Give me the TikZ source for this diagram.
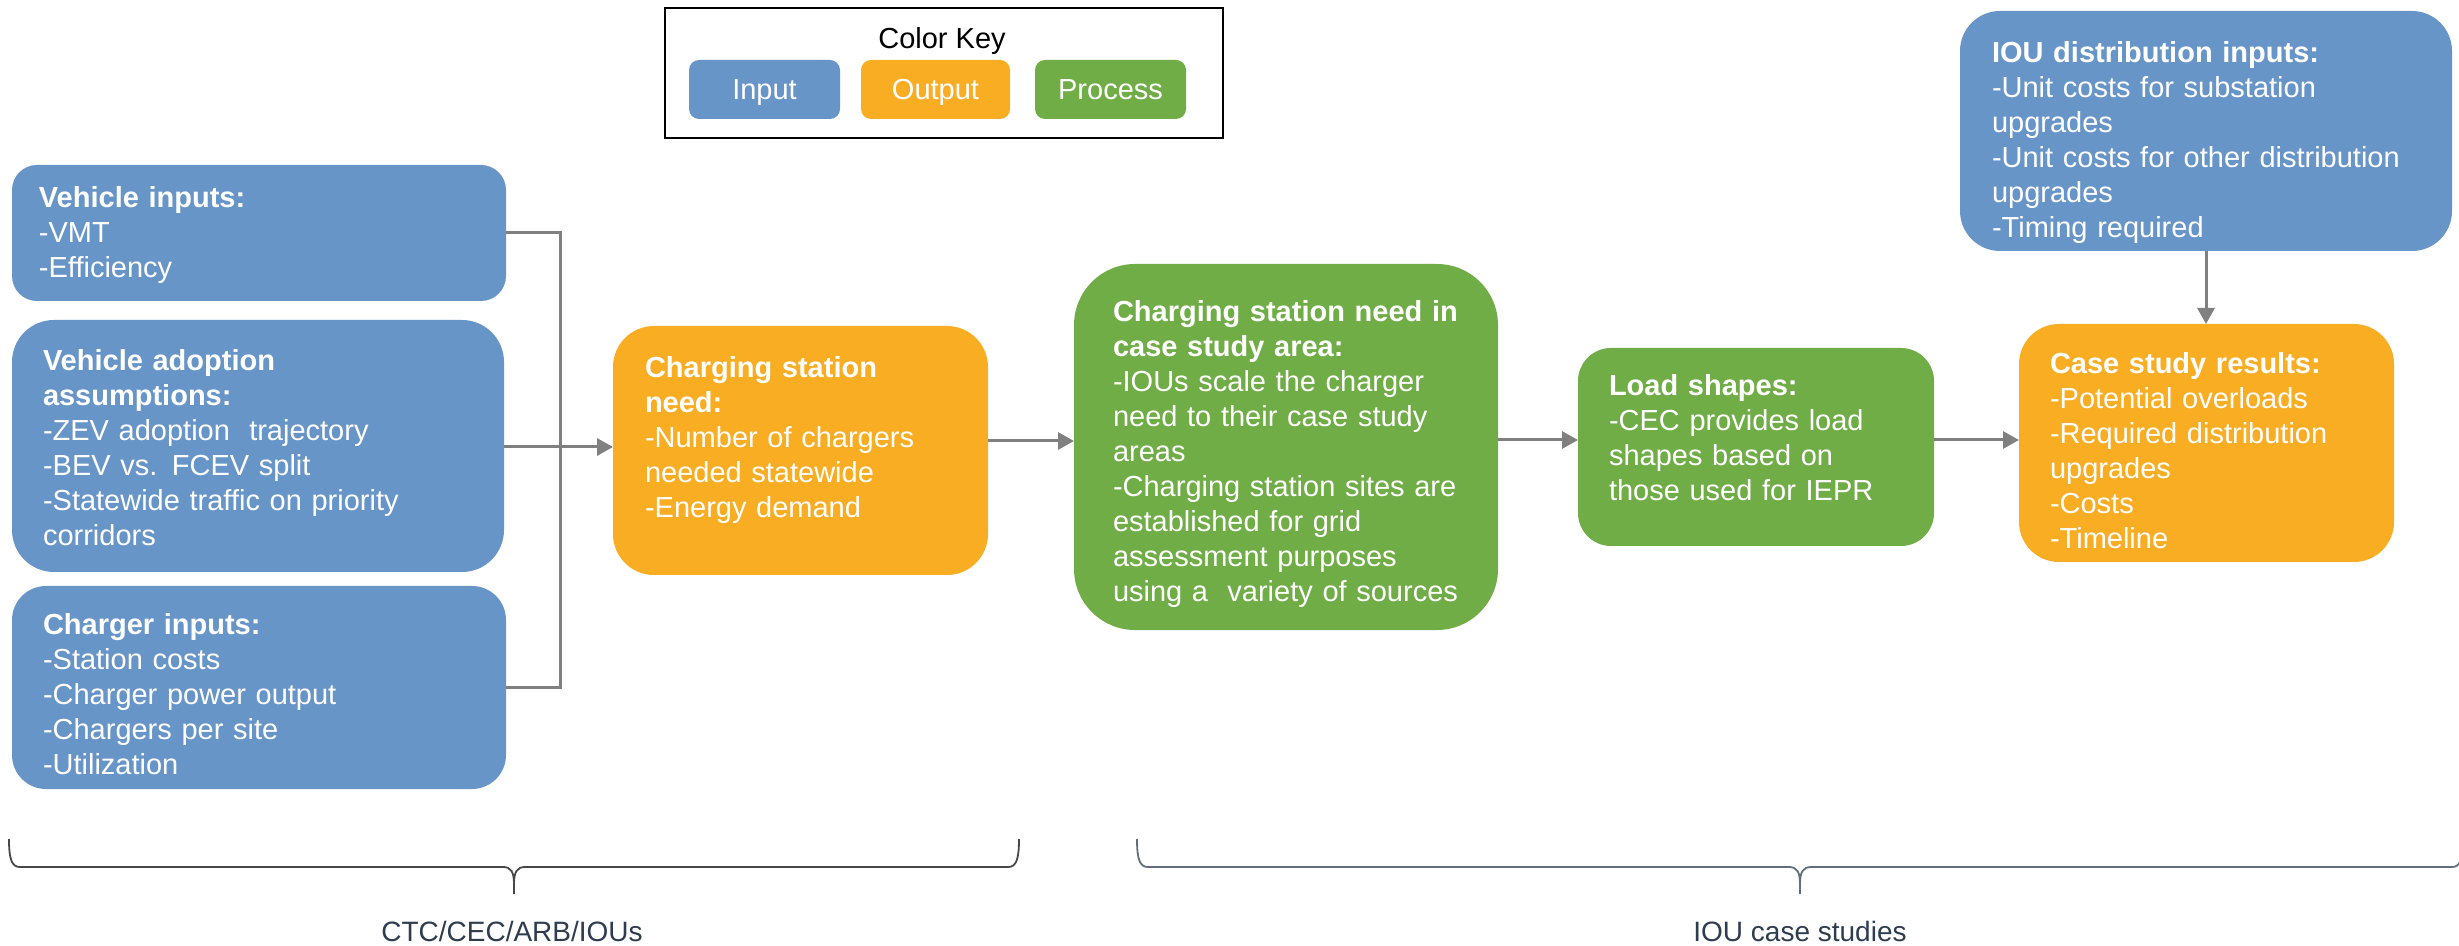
\documentclass[tikz,border=0pt]{standalone}
\usepackage{fontspec}
\setmainfont{Liberation Sans}
\usetikzlibrary{arrows.meta,calc}
\definecolor{inblue}{RGB}{104,149,200}
\definecolor{outorange}{RGB}{249,173,35}
\definecolor{procgreen}{RGB}{112,173,71}
\definecolor{conngray}{RGB}{128,128,128}
\definecolor{braceL}{RGB}{72,72,72}
\definecolor{braceR}{RGB}{96,110,126}
\definecolor{labelc}{RGB}{46,60,79}
\begin{document}
\begin{tikzpicture}[x=0.5pt,y=-0.5pt,
  boxs/.style={anchor=north west, inner sep=0pt, outer sep=0pt, draw=none},
  bodytext/.style={anchor=north west, inner sep=0pt, outer sep=0pt, text=white,
    text width=260pt, align=left, font=\fontsize{14.5pt}{17.5pt}\selectfont},
  keytext/.style={text=white, inner sep=0pt, anchor=base, font=\fontsize{14.5pt}{17.5pt}\selectfont},
  conn/.style={draw=conngray, line width=1.5pt},
  arr/.style={conn, -{Triangle[length=8pt,width=8.5pt]}},
  bracel/.style={draw=braceL, line width=0.9pt},
  bracer/.style={draw=braceR, line width=0.9pt},
  lbl/.style={text=labelc, inner sep=0pt, font=\fontsize{14pt}{17pt}\selectfont}
]
\useasboundingbox (0,0) rectangle (2459,946);

% ---------- colour key ----------
\node[boxs, draw=black, line width=1pt, minimum width=279pt, minimum height=65pt] (key) at (665,8) {};
\node[keytext, text=black] (keytitle) at (942,49) {Color Key};
\node[boxs, fill=inblue, rounded corners=5pt, minimum width=75.5pt, minimum height=29.5pt] (kin) at (689,60) {};
\node[keytext] (kint) at (kin.center |- 0,100) {Input};
\node[boxs, fill=outorange, rounded corners=5pt, minimum width=74.5pt, minimum height=29.5pt] (kout) at (861,60) {};
\node[keytext] (koutt) at (kout.center |- 0,100) {Output};
\node[boxs, fill=procgreen, rounded corners=5pt, minimum width=75.5pt, minimum height=29.5pt] (kpro) at (1035,60) {};
\node[keytext] (kprot) at (kpro.center |- 0,100) {Process};

% ---------- input boxes (left) ----------
\node[boxs, fill=inblue, rounded corners=12.5pt, minimum width=247pt, minimum height=68pt] (vi) at (12,165) {};
\node[bodytext] (vit) at (39,186) {\textbf{Vehicle inputs:}\\-VMT\\-Efficiency};

\node[boxs, fill=inblue, rounded corners=21pt, minimum width=246pt, minimum height=126pt] (va) at (12,320) {};
\node[bodytext] (vat) at (43,349) {\textbf{Vehicle adoption}\\\textbf{assumptions:}\\-ZEV adoption\ \ trajectory\\-BEV vs. FCEV split\\-Statewide traffic on priority\\corridors};

\node[boxs, fill=inblue, rounded corners=17pt, minimum width=247pt, minimum height=101.5pt] (ci) at (12,586) {};
\node[bodytext] (cit) at (43,613) {\textbf{Charger inputs:}\\-Station costs\\-Charger power output\\-Chargers per site\\-Utilization};

% ---------- charging station need ----------
\node[boxs, fill=outorange, rounded corners=20.5pt, minimum width=187.5pt, minimum height=124.5pt] (cs) at (613,326) {};
\node[bodytext] (cst) at (645,356) {\textbf{Charging station}\\\textbf{need:}\\-Number of chargers\\needed statewide\\-Energy demand};

% ---------- case study area ----------
\node[boxs, fill=procgreen, rounded corners=30.5pt, minimum width=212pt, minimum height=183pt] (gr) at (1074,264) {};
\node[bodytext] (grt) at (1113,300) {\textbf{Charging station need in}\\\textbf{case study area:}\\-IOUs scale the charger\\need to their case study\\areas\\-Charging station sites are\\established for grid\\assessment purposes\\using a\ \ variety of sources};

% ---------- load shapes ----------
\node[boxs, fill=procgreen, rounded corners=16.5pt, minimum width=178pt, minimum height=99pt] (ls) at (1578,348) {};
\node[bodytext] (lst) at (1609,374) {\textbf{Load shapes:}\\-CEC provides load\\shapes based on\\those used for IEPR};

% ---------- case study results ----------
\node[boxs, fill=outorange, rounded corners=20pt, minimum width=187.5pt, minimum height=119pt] (cr) at (2019,324) {};
\node[bodytext] (crt) at (2050,352) {\textbf{Case study results:}\\-Potential overloads\\-Required distribution\\upgrades\\-Costs\\-Timeline};

% ---------- IOU distribution inputs ----------
\node[boxs, fill=inblue, rounded corners=20pt, minimum width=246pt, minimum height=120pt] (iou) at (1960,11) {};
\node[bodytext] (iout) at (1992,41) {\textbf{IOU distribution inputs:}\\-Unit costs for substation\\upgrades\\-Unit costs for other distribution\\upgrades\\-Timing required};

% ---------- connectors ----------
\coordinate (j) at (560,447);
\draw[conn] (vi.east) -| (j);
\draw[conn] (ci.east) -| (j);
\draw[arr] (va.east |- j) -- (cs.west |- j);
\draw[arr] (cs.east |- 0,441) -- (gr.west |- 0,441);
\draw[arr] (gr.east |- 0,440) -- (ls.west |- 0,440);
\draw[arr] (ls.east |- 0,440) -- (cr.west |- 0,440);
\draw[arr] (iou.south) -- (iou.south |- cr.north);

% ---------- braces ----------
\draw[bracel] (9,839) .. controls (9,860) and (12,867) .. (20,867) -- (503,867)
  .. controls (511,867) and (514,872) .. (514,884) -- (514,894);
\draw[bracel] (1019,839) .. controls (1019,860) and (1016,867) .. (1008,867) -- (525,867)
  .. controls (517,867) and (514,872) .. (514,884);
\draw[bracer] (1137,839) .. controls (1137,860) and (1140,867) .. (1148,867) -- (1789,867)
  .. controls (1797,867) and (1800,872) .. (1800,884) -- (1800,894);
\draw[bracer] (2463,839) .. controls (2463,860) and (2460,867) .. (2452,867) -- (1811,867)
  .. controls (1803,867) and (1800,872) .. (1800,884);

\node[lbl, anchor=base] (lab1) at (512,941) {CTC/CEC/ARB/IOUs};
\node[lbl, anchor=base] (lab2) at (1800,941) {IOU case studies};
\end{tikzpicture}
\end{document}
